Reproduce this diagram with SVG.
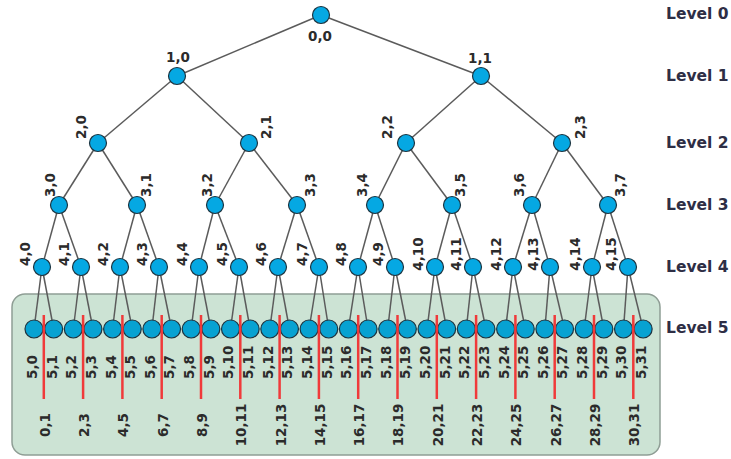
<svg xmlns="http://www.w3.org/2000/svg" width="731" height="459" viewBox="0 0 731 459">
<style>
.e{stroke:#5b5b5b;stroke-width:1.5;fill:none}
.n{fill:#05a8e3;stroke:#1d3440;stroke-width:1.2}
.m{fill:#07a2d2;stroke:#1d3440;stroke-width:1.2}
.t{font-family:"DejaVu Sans",Verdana,sans-serif;font-weight:bold;font-size:13.5px;fill:#2b2b2b}
.c{text-anchor:middle}
.lv{font-family:"DejaVu Sans",Verdana,sans-serif;font-weight:bold;font-size:15.5px;fill:#2e2e45}
.r{stroke:#f03a3a;stroke-width:2.5}
</style>
<rect id="box" x="12" y="294" width="648" height="161" rx="13" fill="#cce3d4" stroke="#8f9e95" stroke-width="1.5"/>
<g id="connectors">
<line class="e" x1="321" y1="15" x2="177" y2="76"/><line class="e" x1="321" y1="15" x2="481" y2="76"/>
<line class="e" x1="177" y1="76" x2="98" y2="143"/><line class="e" x1="177" y1="76" x2="249" y2="143"/>
<line class="e" x1="481" y1="76" x2="406" y2="143"/><line class="e" x1="481" y1="76" x2="562" y2="143"/>
<line class="e" x1="98" y1="143" x2="59" y2="205"/><line class="e" x1="98" y1="143" x2="137" y2="205"/>
<line class="e" x1="249" y1="143" x2="215" y2="205"/><line class="e" x1="249" y1="143" x2="297" y2="205"/>
<line class="e" x1="406" y1="143" x2="375" y2="205"/><line class="e" x1="406" y1="143" x2="452" y2="205"/>
<line class="e" x1="562" y1="143" x2="532" y2="205"/><line class="e" x1="562" y1="143" x2="608" y2="205"/>
<line class="e" x1="59" y1="205" x2="42" y2="267"/><line class="e" x1="59" y1="205" x2="81" y2="267"/>
<line class="e" x1="137" y1="205" x2="120" y2="267"/><line class="e" x1="137" y1="205" x2="159" y2="267"/>
<line class="e" x1="215" y1="205" x2="199" y2="267"/><line class="e" x1="215" y1="205" x2="239" y2="267"/>
<line class="e" x1="297" y1="205" x2="278" y2="267"/><line class="e" x1="297" y1="205" x2="319" y2="267"/>
<line class="e" x1="375" y1="205" x2="358" y2="267"/><line class="e" x1="375" y1="205" x2="395" y2="267"/>
<line class="e" x1="452" y1="205" x2="435" y2="267"/><line class="e" x1="452" y1="205" x2="473" y2="267"/>
<line class="e" x1="532" y1="205" x2="513" y2="267"/><line class="e" x1="532" y1="205" x2="550" y2="267"/>
<line class="e" x1="608" y1="205" x2="592" y2="267"/><line class="e" x1="608" y1="205" x2="628" y2="267"/>
<line class="e" x1="42" y1="267" x2="34" y2="329"/><line class="e" x1="42" y1="267" x2="53.65" y2="329"/>
<line class="e" x1="81" y1="267" x2="73.3" y2="329"/><line class="e" x1="81" y1="267" x2="92.95" y2="329"/>
<line class="e" x1="120" y1="267" x2="112.6" y2="329"/><line class="e" x1="120" y1="267" x2="132.25" y2="329"/>
<line class="e" x1="159" y1="267" x2="151.9" y2="329"/><line class="e" x1="159" y1="267" x2="171.55" y2="329"/>
<line class="e" x1="199" y1="267" x2="191.2" y2="329"/><line class="e" x1="199" y1="267" x2="210.85" y2="329"/>
<line class="e" x1="239" y1="267" x2="230.5" y2="329"/><line class="e" x1="239" y1="267" x2="250.15" y2="329"/>
<line class="e" x1="278" y1="267" x2="269.8" y2="329"/><line class="e" x1="278" y1="267" x2="289.45" y2="329"/>
<line class="e" x1="319" y1="267" x2="309.1" y2="329"/><line class="e" x1="319" y1="267" x2="328.75" y2="329"/>
<line class="e" x1="358" y1="267" x2="348.4" y2="329"/><line class="e" x1="358" y1="267" x2="368.05" y2="329"/>
<line class="e" x1="395" y1="267" x2="387.7" y2="329"/><line class="e" x1="395" y1="267" x2="407.35" y2="329"/>
<line class="e" x1="435" y1="267" x2="427" y2="329"/><line class="e" x1="435" y1="267" x2="446.65" y2="329"/>
<line class="e" x1="473" y1="267" x2="466.3" y2="329"/><line class="e" x1="473" y1="267" x2="485.95" y2="329"/>
<line class="e" x1="513" y1="267" x2="505.6" y2="329"/><line class="e" x1="513" y1="267" x2="525.25" y2="329"/>
<line class="e" x1="550" y1="267" x2="544.9" y2="329"/><line class="e" x1="550" y1="267" x2="564.55" y2="329"/>
<line class="e" x1="592" y1="267" x2="584.2" y2="329"/><line class="e" x1="592" y1="267" x2="603.85" y2="329"/>
<line class="e" x1="628" y1="267" x2="623.5" y2="329"/><line class="e" x1="628" y1="267" x2="643.15" y2="329"/>
</g>
<g id="nodes">
<g id="n0_0"><circle class="n" cx="321" cy="15" r="8.5"/><text class="t c" x="320" y="41">0,0</text></g>
<g id="n1_0"><circle class="n" cx="177" cy="76" r="8.5"/><text class="t c" x="178" y="62">1,0</text></g>
<g id="n1_1"><circle class="n" cx="481" cy="76" r="8.5"/><text class="t c" x="480" y="63">1,1</text></g>
<g id="n2_0"><circle class="n" cx="98" cy="143" r="8.5"/><text class="t c" transform="translate(85.9,127) rotate(-90)">2,0</text></g>
<g id="n2_1"><circle class="n" cx="249" cy="143" r="8.5"/><text class="t c" transform="translate(270.9,127) rotate(-90)">2,1</text></g>
<g id="n2_2"><circle class="n" cx="406" cy="143" r="8.5"/><text class="t c" transform="translate(391.9,127) rotate(-90)">2,2</text></g>
<g id="n2_3"><circle class="n" cx="562" cy="143" r="8.5"/><text class="t c" transform="translate(584.9,127) rotate(-90)">2,3</text></g>
<g id="n3_0"><circle class="n" cx="59" cy="205" r="8.5"/><text class="t c" transform="translate(54.9,185) rotate(-90)">3,0</text></g>
<g id="n3_1"><circle class="n" cx="137" cy="205" r="8.5"/><text class="t c" transform="translate(150.9,185) rotate(-90)">3,1</text></g>
<g id="n3_2"><circle class="n" cx="215" cy="205" r="8.5"/><text class="t c" transform="translate(211.9,185) rotate(-90)">3,2</text></g>
<g id="n3_3"><circle class="n" cx="297" cy="205" r="8.5"/><text class="t c" transform="translate(314.9,185) rotate(-90)">3,3</text></g>
<g id="n3_4"><circle class="n" cx="375" cy="205" r="8.5"/><text class="t c" transform="translate(366.9,185) rotate(-90)">3,4</text></g>
<g id="n3_5"><circle class="n" cx="452" cy="205" r="8.5"/><text class="t c" transform="translate(464.9,185) rotate(-90)">3,5</text></g>
<g id="n3_6"><circle class="n" cx="532" cy="205" r="8.5"/><text class="t c" transform="translate(523.9,185) rotate(-90)">3,6</text></g>
<g id="n3_7"><circle class="n" cx="608" cy="205" r="8.5"/><text class="t c" transform="translate(624.9,185) rotate(-90)">3,7</text></g>
<g id="n4_0"><circle class="n" cx="42" cy="267" r="8.5"/><text class="t c" transform="translate(29.9,254) rotate(-90)">4,0</text></g>
<g id="n4_1"><circle class="n" cx="81" cy="267" r="8.5"/><text class="t c" transform="translate(68.9,254) rotate(-90)">4,1</text></g>
<g id="n4_2"><circle class="n" cx="120" cy="267" r="8.5"/><text class="t c" transform="translate(107.9,254) rotate(-90)">4,2</text></g>
<g id="n4_3"><circle class="n" cx="159" cy="267" r="8.5"/><text class="t c" transform="translate(146.9,254) rotate(-90)">4,3</text></g>
<g id="n4_4"><circle class="n" cx="199" cy="267" r="8.5"/><text class="t c" transform="translate(186.9,254) rotate(-90)">4,4</text></g>
<g id="n4_5"><circle class="n" cx="239" cy="267" r="8.5"/><text class="t c" transform="translate(226.9,254) rotate(-90)">4,5</text></g>
<g id="n4_6"><circle class="n" cx="278" cy="267" r="8.5"/><text class="t c" transform="translate(265.9,254) rotate(-90)">4,6</text></g>
<g id="n4_7"><circle class="n" cx="319" cy="267" r="8.5"/><text class="t c" transform="translate(306.9,254) rotate(-90)">4,7</text></g>
<g id="n4_8"><circle class="n" cx="358" cy="267" r="8.5"/><text class="t c" transform="translate(345.9,254) rotate(-90)">4,8</text></g>
<g id="n4_9"><circle class="n" cx="395" cy="267" r="8.5"/><text class="t c" transform="translate(382.9,254) rotate(-90)">4,9</text></g>
<g id="n4_10"><circle class="n" cx="435" cy="267" r="8.5"/><text class="t c" transform="translate(422.9,254) rotate(-90)">4,10</text></g>
<g id="n4_11"><circle class="n" cx="473" cy="267" r="8.5"/><text class="t c" transform="translate(460.9,254) rotate(-90)">4,11</text></g>
<g id="n4_12"><circle class="n" cx="513" cy="267" r="8.5"/><text class="t c" transform="translate(500.9,254) rotate(-90)">4,12</text></g>
<g id="n4_13"><circle class="n" cx="550" cy="267" r="8.5"/><text class="t c" transform="translate(537.9,254) rotate(-90)">4,13</text></g>
<g id="n4_14"><circle class="n" cx="592" cy="267" r="8.5"/><text class="t c" transform="translate(579.9,254) rotate(-90)">4,14</text></g>
<g id="n4_15"><circle class="n" cx="628" cy="267" r="8.5"/><text class="t c" transform="translate(615.9,254) rotate(-90)">4,15</text></g>
<g id="n5_0"><circle class="m" cx="34" cy="329" r="9"/><text class="t" transform="translate(36.9,379) rotate(-90)">5,0</text></g>
<g id="n5_1"><circle class="m" cx="53.65" cy="329" r="9"/><text class="t" transform="translate(56.55,379) rotate(-90)">5,1</text></g>
<g id="n5_2"><circle class="m" cx="73.3" cy="329" r="9"/><text class="t" transform="translate(76.2,379) rotate(-90)">5,2</text></g>
<g id="n5_3"><circle class="m" cx="92.95" cy="329" r="9"/><text class="t" transform="translate(95.85,379) rotate(-90)">5,3</text></g>
<g id="n5_4"><circle class="m" cx="112.6" cy="329" r="9"/><text class="t" transform="translate(115.5,379) rotate(-90)">5,4</text></g>
<g id="n5_5"><circle class="m" cx="132.25" cy="329" r="9"/><text class="t" transform="translate(135.15,379) rotate(-90)">5,5</text></g>
<g id="n5_6"><circle class="m" cx="151.9" cy="329" r="9"/><text class="t" transform="translate(154.8,379) rotate(-90)">5,6</text></g>
<g id="n5_7"><circle class="m" cx="171.55" cy="329" r="9"/><text class="t" transform="translate(174.45,379) rotate(-90)">5,7</text></g>
<g id="n5_8"><circle class="m" cx="191.2" cy="329" r="9"/><text class="t" transform="translate(194.1,379) rotate(-90)">5,8</text></g>
<g id="n5_9"><circle class="m" cx="210.85" cy="329" r="9"/><text class="t" transform="translate(213.75,379) rotate(-90)">5,9</text></g>
<g id="n5_10"><circle class="m" cx="230.5" cy="329" r="9"/><text class="t" transform="translate(233.4,379) rotate(-90)">5,10</text></g>
<g id="n5_11"><circle class="m" cx="250.15" cy="329" r="9"/><text class="t" transform="translate(253.05,379) rotate(-90)">5,11</text></g>
<g id="n5_12"><circle class="m" cx="269.8" cy="329" r="9"/><text class="t" transform="translate(272.7,379) rotate(-90)">5,12</text></g>
<g id="n5_13"><circle class="m" cx="289.45" cy="329" r="9"/><text class="t" transform="translate(292.35,379) rotate(-90)">5,13</text></g>
<g id="n5_14"><circle class="m" cx="309.1" cy="329" r="9"/><text class="t" transform="translate(312,379) rotate(-90)">5,14</text></g>
<g id="n5_15"><circle class="m" cx="328.75" cy="329" r="9"/><text class="t" transform="translate(331.65,379) rotate(-90)">5,15</text></g>
<g id="n5_16"><circle class="m" cx="348.4" cy="329" r="9"/><text class="t" transform="translate(351.3,379) rotate(-90)">5,16</text></g>
<g id="n5_17"><circle class="m" cx="368.05" cy="329" r="9"/><text class="t" transform="translate(370.95,379) rotate(-90)">5,17</text></g>
<g id="n5_18"><circle class="m" cx="387.7" cy="329" r="9"/><text class="t" transform="translate(390.6,379) rotate(-90)">5,18</text></g>
<g id="n5_19"><circle class="m" cx="407.35" cy="329" r="9"/><text class="t" transform="translate(410.25,379) rotate(-90)">5,19</text></g>
<g id="n5_20"><circle class="m" cx="427" cy="329" r="9"/><text class="t" transform="translate(429.9,379) rotate(-90)">5,20</text></g>
<g id="n5_21"><circle class="m" cx="446.65" cy="329" r="9"/><text class="t" transform="translate(449.55,379) rotate(-90)">5,21</text></g>
<g id="n5_22"><circle class="m" cx="466.3" cy="329" r="9"/><text class="t" transform="translate(469.2,379) rotate(-90)">5,22</text></g>
<g id="n5_23"><circle class="m" cx="485.95" cy="329" r="9"/><text class="t" transform="translate(488.85,379) rotate(-90)">5,23</text></g>
<g id="n5_24"><circle class="m" cx="505.6" cy="329" r="9"/><text class="t" transform="translate(508.5,379) rotate(-90)">5,24</text></g>
<g id="n5_25"><circle class="m" cx="525.25" cy="329" r="9"/><text class="t" transform="translate(528.15,379) rotate(-90)">5,25</text></g>
<g id="n5_26"><circle class="m" cx="544.9" cy="329" r="9"/><text class="t" transform="translate(547.8,379) rotate(-90)">5,26</text></g>
<g id="n5_27"><circle class="m" cx="564.55" cy="329" r="9"/><text class="t" transform="translate(567.45,379) rotate(-90)">5,27</text></g>
<g id="n5_28"><circle class="m" cx="584.2" cy="329" r="9"/><text class="t" transform="translate(587.1,379) rotate(-90)">5,28</text></g>
<g id="n5_29"><circle class="m" cx="603.85" cy="329" r="9"/><text class="t" transform="translate(606.75,379) rotate(-90)">5,29</text></g>
<g id="n5_30"><circle class="m" cx="623.5" cy="329" r="9"/><text class="t" transform="translate(626.4,379) rotate(-90)">5,30</text></g>
<g id="n5_31"><circle class="m" cx="643.15" cy="329" r="9"/><text class="t" transform="translate(646.05,379) rotate(-90)">5,31</text></g>
</g>
<g id="pairs">
<line class="r" x1="43.8" y1="315" x2="43.8" y2="399"/><text class="t c" transform="translate(49.7,425) rotate(-90)">0,1</text>
<line class="r" x1="83.1" y1="315" x2="83.1" y2="399"/><text class="t c" transform="translate(89,425) rotate(-90)">2,3</text>
<line class="r" x1="122.4" y1="315" x2="122.4" y2="399"/><text class="t c" transform="translate(128.3,425) rotate(-90)">4,5</text>
<line class="r" x1="161.7" y1="315" x2="161.7" y2="399"/><text class="t c" transform="translate(167.6,425) rotate(-90)">6,7</text>
<line class="r" x1="201" y1="315" x2="201" y2="399"/><text class="t c" transform="translate(206.9,425) rotate(-90)">8,9</text>
<line class="r" x1="240.3" y1="315" x2="240.3" y2="399"/><text class="t c" transform="translate(246.2,425) rotate(-90)">10,11</text>
<line class="r" x1="279.6" y1="315" x2="279.6" y2="399"/><text class="t c" transform="translate(285.5,425) rotate(-90)">12,13</text>
<line class="r" x1="318.9" y1="315" x2="318.9" y2="399"/><text class="t c" transform="translate(324.8,425) rotate(-90)">14,15</text>
<line class="r" x1="358.2" y1="315" x2="358.2" y2="399"/><text class="t c" transform="translate(364.1,425) rotate(-90)">16,17</text>
<line class="r" x1="397.5" y1="315" x2="397.5" y2="399"/><text class="t c" transform="translate(403.4,425) rotate(-90)">18,19</text>
<line class="r" x1="436.8" y1="315" x2="436.8" y2="399"/><text class="t c" transform="translate(442.7,425) rotate(-90)">20,21</text>
<line class="r" x1="476.1" y1="315" x2="476.1" y2="399"/><text class="t c" transform="translate(482,425) rotate(-90)">22,23</text>
<line class="r" x1="515.4" y1="315" x2="515.4" y2="399"/><text class="t c" transform="translate(521.3,425) rotate(-90)">24,25</text>
<line class="r" x1="554.7" y1="315" x2="554.7" y2="399"/><text class="t c" transform="translate(560.6,425) rotate(-90)">26,27</text>
<line class="r" x1="594" y1="315" x2="594" y2="399"/><text class="t c" transform="translate(599.9,425) rotate(-90)">28,29</text>
<line class="r" x1="633.3" y1="315" x2="633.3" y2="399"/><text class="t c" transform="translate(639.2,425) rotate(-90)">30,31</text>
</g>
<g id="levels">
<text class="lv" x="666" y="19">Level 0</text>
<text class="lv" x="666" y="81">Level 1</text>
<text class="lv" x="666" y="148">Level 2</text>
<text class="lv" x="666" y="210">Level 3</text>
<text class="lv" x="666" y="272">Level 4</text>
<text class="lv" x="666" y="333">Level 5</text>
</g>
</svg>
